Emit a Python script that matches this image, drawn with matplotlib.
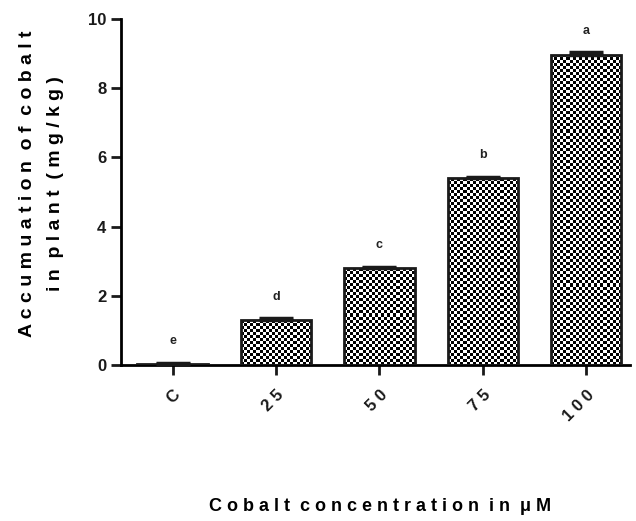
import matplotlib
matplotlib.use("Agg")
import matplotlib.pyplot as plt
import numpy as np

plt.rcParams['font.family'] = ['Liberation Sans', 'DejaVu Sans']

categories = ["C", "25", "50", "75", "100"]
values = [0.03, 1.30, 2.80, 5.40, 8.97]
errors = [0.03, 0.05, 0.04, 0.04, 0.07]
letters = ["e", "d", "c", "b", "a"]

def spaced(s):
    return "  ".join(" ".join(w) for w in s.split(" "))

fig = plt.figure(figsize=(6.36, 5.21), dpi=100)
ax = fig.add_axes([0.19, 0.2994, 0.80, 0.6641])

x = np.arange(len(categories))
width = 0.68
bars = ax.bar(x, values, width=width, color='none', edgecolor='#1a1a1a', linewidth=2, zorder=3)
ax.errorbar(x, values, yerr=[np.zeros(len(values)), errors], fmt='none', ecolor='#1a1a1a',
            elinewidth=2, capsize=12, capthick=2.5, zorder=4)

ax.set_xlim(-0.5, 4.42)
ax.set_ylim(0, 10)

# checkerboard fill
fig.canvas.draw()
cell = 3.0
for b in bars:
    x0, y0 = b.get_x(), b.get_y()
    w, h = b.get_width(), b.get_height()
    p0 = ax.transData.transform((x0, y0))
    p1 = ax.transData.transform((x0 + w, y0 + h))
    nx = max(1, int(round((p1[0] - p0[0]) / cell)))
    ny = max(1, int(round((p1[1] - p0[1]) / cell)))
    ii, jj = np.indices((ny, nx))
    arr = ((ii + jj) % 2).astype(float)
    im = ax.imshow(arr, extent=(x0, x0 + w, y0, y0 + h), cmap='gray', vmin=0, vmax=1,
                   interpolation='nearest', aspect='auto', zorder=2, origin='lower')
    im.set_clip_path(b)
ax.set_xlim(-0.5, 4.42)
ax.set_ylim(0, 10)

for xi, v, e, l in zip(x, values, errors, letters):
    ax.text(xi, v + e + 0.45, l, ha='center', va='bottom', fontsize=9, fontweight='bold', color='#222222')

ax.spines['top'].set_visible(False)
ax.spines['right'].set_visible(False)
ax.spines['left'].set_linewidth(2)
ax.spines['bottom'].set_linewidth(2)
ax.spines['left'].set_position(('data', -0.5))
ax.set_yticks([0, 2, 4, 6, 8, 10])
ax.set_xticks(x)
ax.set_xticklabels([" ".join(c) for c in categories], rotation=45, ha='right', va='top',
                   rotation_mode='anchor', fontsize=12, fontweight='bold')
for lab in ax.get_yticklabels():
    lab.set_fontsize(12)
    lab.set_fontweight('bold')
ax.tick_params(axis='both', width=2, length=7, direction='out', colors='#1a1a1a')
ax.tick_params(axis='x', pad=9)

ax.set_ylabel(spaced("Accumuation of cobalt") + "\n" + spaced("in plant (mg/kg)"),
              fontsize=14, fontweight='bold', linespacing=1.85)
ax.yaxis.set_label_coords(-0.111, 0.525)
fig.text(0.598, 0.012, spaced("Cobalt concentration in μM"), ha='center', va='bottom',
         fontsize=13, fontweight='bold')

fig.savefig("out.png", dpi=100)
